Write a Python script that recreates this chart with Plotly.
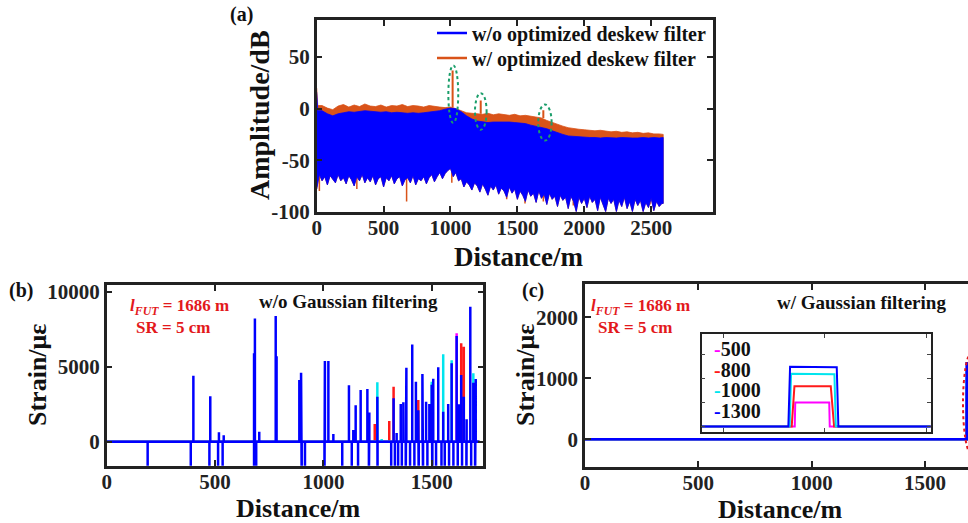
import plotly.graph_objects as go

W, H = 968, 523


def px(x):
    return x / W


def py(y):
    return 1 - y / H


# ---------------- Panel (a): amplitude envelopes (dB) ----------------
A_TOP_DIST = [0, 8] + list(range(40, 2561, 40)) + [2590]
A_BLUE_TOP = [16, -2,
              -2, -5, -7, -5, -4, -3, -3.5, -2.5, -2, -2.5,
              -3, -3.5, -3, -4, -3.5, -4, -4.5, -4, -4.5, -4,
              -3.5, -3, -2, -0.5, 0.5, 0, -3, -7, -10, -12,
              -13, -13.5, -13, -13, -12.5, -13, -13.5, -14, -14.5, -16,
              -17, -18, -19.5, -21.5, -23.5, -25, -26.5, -27, -27.5, -28,
              -28, -28, -28.5, -28, -28.5, -28.5, -28, -28.5, -28.5, -28.5,
              -28, -28.5, -28, -28.5,
              -28]
A_ORANGE_TOP = [20, 3,
                3, 0.5, -1, 2.5, 4, 1.5, 3.5, 2, 4.5, 2.5,
                2, 3.5, 1.5, 3, 2.5, 4, 2, 3, 2.5, 1.5,
                3, 2, 1.5, 1, 1.5, 0, -2, -4, -4.5, -5,
                -5.5, -4.5, -6, -5, -6, -6.5, -5.5, -7, -6.5, -7.5,
                -8, -9, -11.5, -13.5, -15.5, -17, -18.5, -19.5, -20, -20.5,
                -21, -21.5, -21, -22, -22.5, -22, -23, -22.5, -23.5, -23,
                -24, -23.5, -24.5, -24.5,
                -25]
A_BOT_DIST = list(range(0, 2581, 20)) + [2590]
A_BLUE_BOT = [-78, -64, -70, -66, -74, -65, -68, -72, -64, -70,
              -67, -73, -65, -69, -75, -66, -70, -64, -72, -67,
              -71, -65, -74, -68, -66, -76, -67, -70, -65, -73,
              -68, -66, -75, -69, -67, -72, -65, -74, -68, -70,
              -66, -73, -67, -64, -71, -66, -62, -68, -63, -60,
              -58, -66, -62, -70, -68, -76, -71, -74, -79, -72,
              -75, -81, -73, -78, -84, -75, -79, -74, -83, -77,
              -80, -86, -76, -82, -78, -88, -80, -84, -90, -79,
              -85, -82, -91, -80, -87, -83, -93, -82, -88, -85,
              -95, -84, -89, -86, -97, -85, -90, -100, -86, -92,
              -87, -96, -85, -91, -88, -99, -86, -93, -100, -87,
              -92, -88, -100, -89, -95, -86, -97, -90, -100, -88,
              -94, -89, -100, -91, -96, -87, -99, -90, -95, -92,
              -92]
A_ORANGE_DIP_DIST = [20, 300, 672, 1010, 1420, 1557, 1694, 1918, 2491]
A_ORANGE_DIP_VAL = [-80, -78, -90, -72, -88, -92, -90, -94, -93]
A_ORANGE_PEAK_DIST = [1016, 1226, 1694]
A_ORANGE_PEAK_VAL = [37, 8, -1.6]
A_ORANGE_PEAK_BASE = [1, -5, -9]
A_ELLIPSE_X = [(984, 1058), (1183, 1270), (1656, 1756)]
A_ELLIPSE_Y = [(-14, 42), (-20.5, 15), (-31, 4)]
A_XTICKS = [0, 500, 1000, 1500, 2000, 2500]
A_YTICKS = [-100, -50, 0, 50]

# ---------------- Panel (b): strain w/o Gaussian filtering (µε) ----------------
B_BLUE_UP_DIST = [400, 478, 518, 540, 680, 684, 704, 780, 784, 889, 897, 1007, 1023, 1046,
                  1118, 1138, 1149, 1172, 1203, 1212, 1249, 1324, 1338, 1357, 1369, 1383,
                  1410, 1427, 1438, 1457, 1474, 1489, 1500, 1507, 1530, 1553, 1576, 1592,
                  1615, 1626, 1636, 1648, 1661, 1678, 1692, 1703]
B_BLUE_UP_VAL = [4400, 3030, 630, 430, 5900, 8220, 670, 8380, 5700, 4110, 4600, 5380, 5380, 510,
                 3760, 780, 2430, 3450, 3510, 1940, 3000, 2890, 580, 2510, 2630, 4930,
                 6490, 4000, 2100, 4510, 2670, 2510, 3800, 4200, 4960, 2000, 2510, 5230,
                 7050, 2500, 4450, 3000, 1500, 9000, 3930, 4180]
B_BLUE_DOWN_DIST = [189, 388, 474, 514, 535, 680, 690, 900, 915, 1005, 1087, 1131, 1160,
                    1210, 1250, 1313, 1330, 1345, 1362, 1380, 1400, 1420, 1440, 1460, 1480,
                    1503, 1520, 1545, 1560, 1580, 1600, 1620, 1640, 1660, 1682, 1700]
B_DOWN_DEPTH = -3000
B_RED_UP_DIST = [1237, 1304, 1324, 1438, 1636, 1648]
B_RED_UP_VAL = [1180, 1380, 3670, 2780, 6560, 6330]
B_CYAN_UP_DIST = [1249, 1269, 1500, 1553, 1592, 1692]
B_CYAN_UP_VAL = [3960, 180, 4000, 5830, 5430, 4560]
B_MAG_UP_DIST = [1615]
B_MAG_UP_VAL = [7230]
B_FIBER_END = 1720
B_XTICKS = [0, 500, 1000, 1500]
B_YTICKS = [0, 5000, 10000]

# ---------------- Panel (c): strain with Gaussian filtering (µε) ----------------
C_LABELS = ["500", "800", "1000", "1300"]
C_COLORS = ["#ff00ff", "#ff1a1a", "#00e5ee", "#0000ff"]
C_PEAK = [500, 840, 1100, 1245]
C_MAIN_DIST = [0, 1684, 1684, 1689, 1689, 1700]
C_XTICKS = [0, 500, 1000, 1500]
C_YTICKS = [0, 1000, 2000]
# inset: zoom on the heated section
C_IN_X = [
    [1684.7, 1685.705, 1685.71, 1686.045, 1686.05, 1687.1],
    [1684.7, 1685.675, 1685.702, 1686.060, 1686.093, 1687.1],
    [1684.7, 1685.655, 1685.669, 1686.096, 1686.11, 1687.1],
    [1684.7, 1685.642, 1685.659, 1686.119, 1686.135, 1687.1],
]
C_IN_Y = [
    [0, 0, 500, 500, 0, 0],
    [0, 0, 840, 840, 0, 0],
    [0, 0, 1100, 1090, 0, 0],
    [0, 0, 1245, 1238, 0, 0],
]
C_IN_XTICKS = [1685, 1686, 1687]
C_IN_YTICKS = [0, 500, 1000, 1500]

BLUE = "#0000ff"
ORANGE = "#d95319"
RED_TXT = "#e3191c"
FONT = "Liberation Serif"


def spikes(up_d, up_v, down_d, depth, end):
    ev = sorted([(d, v) for d, v in zip(up_d, up_v)] + [(d, depth) for d in down_d])
    xs, ys = [0], [0]
    for d, v in ev:
        xs += [d, d, d]
        ys += [0, v, 0]
    xs.append(end)
    ys.append(0)
    return xs, ys


def segs(xd, y0, y1):
    xs, ys = [], []
    for d, a, b in zip(xd, y0, y1):
        xs += [d, d, None]
        ys += [a, b, None]
    return xs, ys


fig = go.Figure()

# ---- panel (a)
poly_x = A_TOP_DIST + A_BOT_DIST[::-1]
fig.add_trace(go.Scatter(x=poly_x, y=A_ORANGE_TOP + A_BLUE_BOT[::-1], fill="toself",
                         fillcolor=ORANGE, line=dict(color=ORANGE, width=0.8),
                         mode="lines", showlegend=False, hoverinfo="skip", xaxis="x", yaxis="y"))
dx, dy = segs(A_ORANGE_DIP_DIST, [-55] * len(A_ORANGE_DIP_DIST), A_ORANGE_DIP_VAL)
fig.add_trace(go.Scatter(x=dx, y=dy, mode="lines", line=dict(color=ORANGE, width=1.5),
                         showlegend=False, hoverinfo="skip", xaxis="x", yaxis="y"))
ppx, ppy = segs(A_ORANGE_PEAK_DIST, A_ORANGE_PEAK_BASE, A_ORANGE_PEAK_VAL)
fig.add_trace(go.Scatter(x=ppx, y=ppy, mode="lines", line=dict(color=ORANGE, width=2),
                         showlegend=False, hoverinfo="skip", xaxis="x", yaxis="y"))
fig.add_trace(go.Scatter(x=poly_x, y=A_BLUE_TOP + A_BLUE_BOT[::-1], fill="toself",
                         fillcolor=BLUE, line=dict(color=BLUE, width=0.8),
                         mode="lines", showlegend=False, hoverinfo="skip", xaxis="x", yaxis="y"))
fig.add_trace(go.Scatter(x=[None], y=[None], mode="lines", line=dict(color=BLUE, width=2.5),
                         name="w/o optimized deskew filter", xaxis="x", yaxis="y",
                         legend="legend"))
fig.add_trace(go.Scatter(x=[None], y=[None], mode="lines", line=dict(color=ORANGE, width=2.5),
                         name="w/ optimized deskew filter", xaxis="x", yaxis="y",
                         legend="legend2"))

# ---- panel (b)
for ud, uv, col in [(B_MAG_UP_DIST, B_MAG_UP_VAL, C_COLORS[0]),
                    (B_RED_UP_DIST, B_RED_UP_VAL, C_COLORS[1]),
                    (B_CYAN_UP_DIST, B_CYAN_UP_VAL, C_COLORS[2])]:
    sx, sy = spikes(ud, uv, [], B_DOWN_DEPTH, B_FIBER_END)
    fig.add_trace(go.Scatter(x=sx, y=sy, mode="lines", line=dict(color=col, width=2.5),
                             showlegend=False, hoverinfo="skip", xaxis="x2", yaxis="y2"))
sx, sy = spikes(B_BLUE_UP_DIST, B_BLUE_UP_VAL, B_BLUE_DOWN_DIST, B_DOWN_DEPTH, B_FIBER_END)
fig.add_trace(go.Scatter(x=sx, y=sy, mode="lines", line=dict(color=BLUE, width=2.5),
                         showlegend=False, hoverinfo="skip", xaxis="x2", yaxis="y2"))

# ---- panel (c)
for lab, col, pk in zip(C_LABELS, C_COLORS, C_PEAK):
    fig.add_trace(go.Scatter(x=C_MAIN_DIST, y=[0, 0, pk, pk, 0, 0], mode="lines",
                             line=dict(color=col, width=2.5), showlegend=False,
                             hoverinfo="skip", xaxis="x3", yaxis="y3"))
for lab, col, xs, ys in zip(C_LABELS, C_COLORS, C_IN_X, C_IN_Y):
    fig.add_trace(go.Scatter(x=xs, y=ys, mode="lines", line=dict(color=col, width=2),
                             name=lab, showlegend=False, hoverinfo="skip",
                             xaxis="x4", yaxis="y4"))

# ---- axes
ax_common = dict(showline=True, linewidth=2.5, linecolor="#222222", ticks="inside",
                 ticklen=6, tickwidth=2, tickcolor="#222222", showgrid=False,
                 zeroline=False, automargin=False,
                 tickfont=dict(family=FONT, size=21, color="#222222", weight="bold"))
in_common = dict(showticklabels=False, showline=True, linewidth=1.5, linecolor="#222222",
                 mirror="ticks", ticks="inside", ticklen=4, tickwidth=1, showgrid=False,
                 zeroline=False, automargin=False)


def tk(vals):
    return dict(tickvals=vals, ticktext=[str(v) for v in vals])


fig.update_layout(
    xaxis=dict(domain=[px(316.7), px(712.7)], range=[0, 2960], anchor="y", **tk(A_XTICKS),
               mirror="ticks", ticklabelstandoff=-5, **ax_common),
    yaxis=dict(domain=[py(211.7), py(20)], range=[-100, 86], anchor="x", **tk(A_YTICKS),
               mirror="ticks", **ax_common),
    xaxis2=dict(domain=[px(106.7), px(483.3)], range=[0, 1738], anchor="y2", **tk(B_XTICKS),
                mirror="ticks", ticklabelstandoff=-5, **ax_common),
    yaxis2=dict(domain=[py(465.7), py(285)], range=[-1600, 10450], anchor="x2", **tk(B_YTICKS),
                mirror="ticks", **ax_common),
    xaxis3=dict(domain=[px(585), 1.0], range=[0, 1690], anchor="y3", **tk(C_XTICKS),
                mirror="ticks", ticklabelstandoff=-5, **ax_common),
    yaxis3=dict(domain=[py(466.7), py(284.3)], range=[-450, 2540], anchor="x3", **tk(C_YTICKS),
                mirror=False, **ax_common),
    xaxis4=dict(domain=[px(701.7), px(930.7)], range=[1684.788, 1687.045], anchor="y4",
                tickvals=C_IN_XTICKS, **in_common),
    yaxis4=dict(domain=[py(431.7), py(334)], range=[-110, 1930], anchor="x4",
                tickvals=C_IN_YTICKS, **in_common),
)

# ---- shapes: dotted ellipses
shapes = []
for (x0, x1), (y0, y1) in zip(A_ELLIPSE_X, A_ELLIPSE_Y):
    shapes.append(dict(type="circle", xref="x", yref="y", x0=x0, x1=x1, y0=y0, y1=y1,
                       line=dict(color="#1a9e6a", width=2, dash="dot")))
shapes.append(dict(type="circle", xref="x3", yref="y3", x0=1668, x1=1745, y0=-250, y1=1420,
                   line=dict(color="#e3191c", width=2, dash="dot")))


# ---- annotations
def ann(text, x, y, size, color="#111111", angle=0, xanchor="center"):
    return dict(text=text, x=px(x), y=py(y), xref="paper", yref="paper", showarrow=False,
                xanchor=xanchor, yanchor="middle", textangle=angle,
                font=dict(family=FONT, size=size, color=color, weight="bold"))


LFUT = "<i>l</i><sub><i>FUT</i></sub> = 1686 m"
annotations = [
    ann("(a)", 241.7, 15, 20),
    ann("(b)", 21, 290, 20),
    ann("(c)", 533, 290, 20),
    ann("Amplitude/dB", 259, 115, 28, angle=-90),
    ann("Distance/m", 518, 257, 27),
    ann("Strain/με", 37, 375, 26, angle=-90),
    ann("Distance/m", 298, 508.5, 26),
    ann("Strain/με", 525, 375, 26, angle=-90),
    ann("Distance/m", 780, 509, 26),
    ann(LFUT, 179, 307, 17, color=RED_TXT),
    ann("SR = 5 cm", 173, 327, 17, color=RED_TXT),
    ann("w/o Gaussian filtering", 348, 301, 19),
    ann(LFUT, 640, 307, 17, color=RED_TXT),
    ann("SR = 5 cm", 635, 327, 17, color=RED_TXT),
    ann("w/ Gaussian filtering", 861, 302, 19),
]
for i, (lab, col) in enumerate(zip(C_LABELS, C_COLORS)):
    annotations.append(ann(f"<span style='color:{col}'>-</span>{lab}", 712, 349 + i * 20.7, 20,
                           xanchor="left"))

leg_common = dict(xanchor="left", yanchor="top", bgcolor="rgba(0,0,0,0)",
                  font=dict(family=FONT, size=20, weight="bold", color="#111111"),
                  itemwidth=30)
fig.update_layout(
    width=W, height=H, margin=dict(l=0, r=0, t=0, b=0, pad=0, autoexpand=False),
    paper_bgcolor="white", plot_bgcolor="white",
    font=dict(family=FONT, color="#111111", weight="bold"),
    shapes=shapes, annotations=annotations,
    legend=dict(x=px(432), y=py(13.5), **leg_common),
    legend2=dict(x=px(432), y=py(38.5), **leg_common),
    showlegend=True,
)

fig.write_html("out.html", config={"displayModeBar": False},
               post_script="document.body.style.margin='0px';"
                           "document.documentElement.style.overflow='hidden';")
